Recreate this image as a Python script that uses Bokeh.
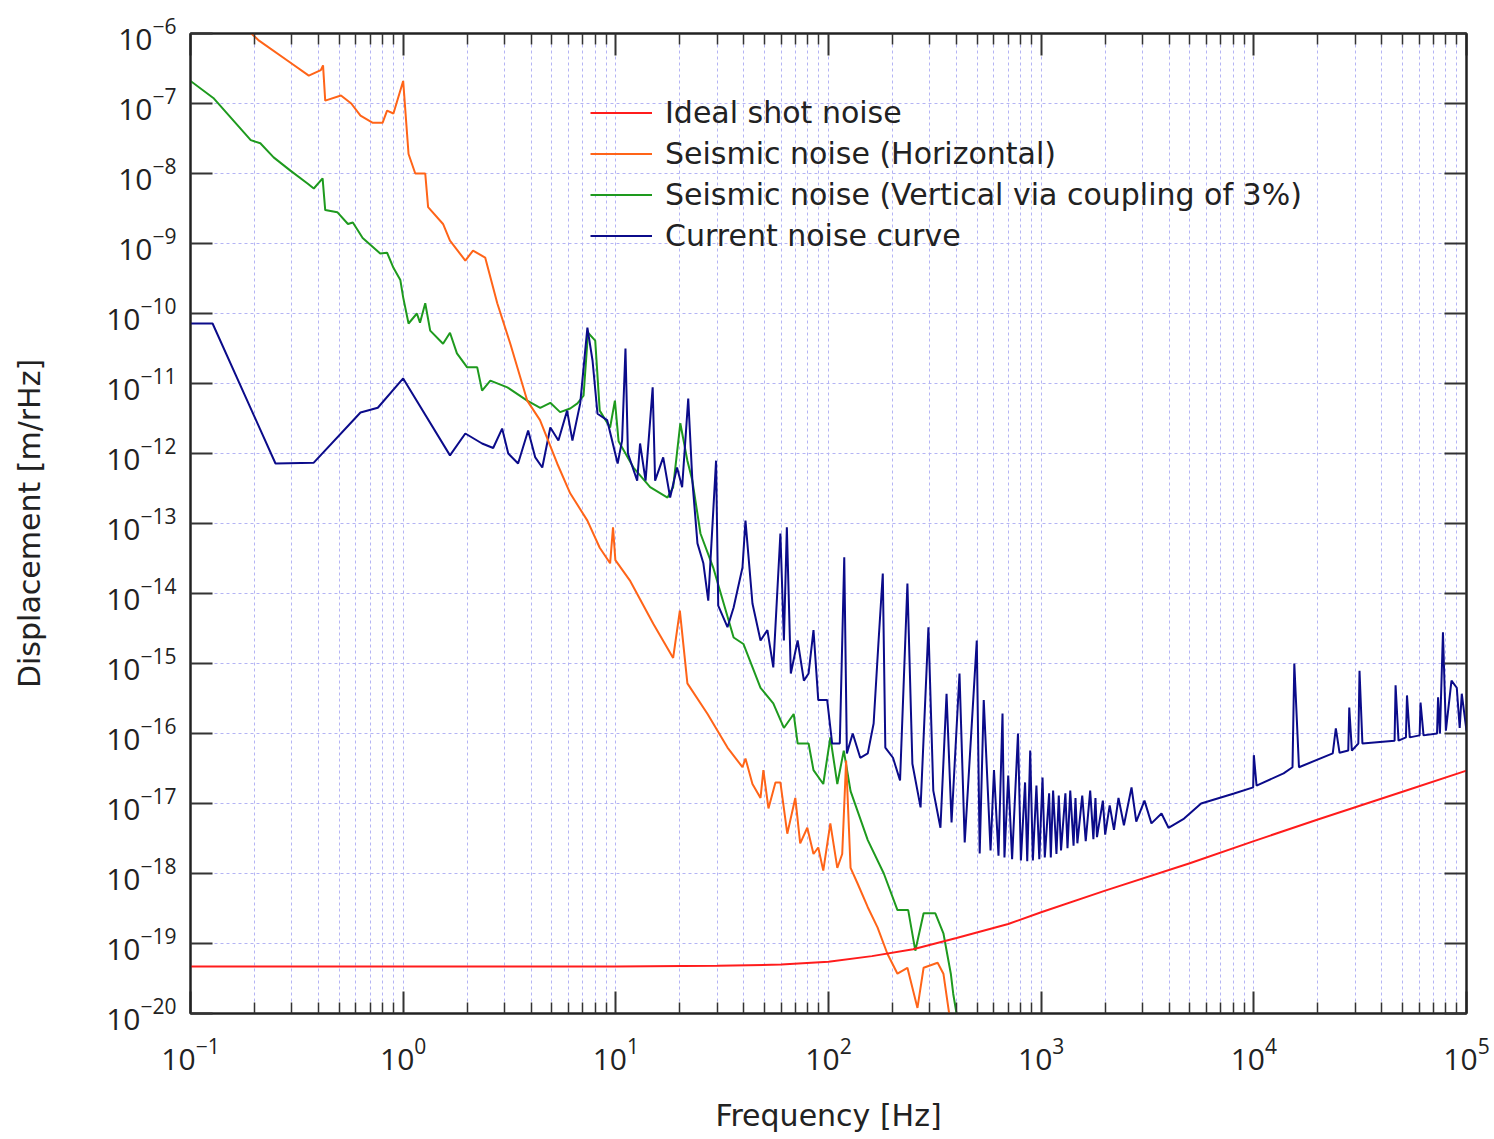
from bokeh.plotting import figure
from bokeh.models import (Range1d, FixedTicker, LogAxis, Legend, LegendItem,
                          CustomJSTickFormatter)
from bokeh.embed import file_html
from bokeh.resources import INLINE

FONT = "Open Sans"
TEXT_FONT = "DejaVu Sans"

# ---------------- data ----------------
x_ticks = [0.1, 1, 10, 100, 1000, 10000, 100000]
y_ticks = [1e-20, 1e-19, 1e-18, 1e-17, 1e-16, 1e-15, 1e-14, 1e-13, 1e-12,
           1e-11, 1e-10, 1e-9, 1e-8, 1e-7, 1e-6]

series_labels = ["Ideal shot noise", "Seismic noise (Horizontal)",
                 "Seismic noise (Vertical via coupling of 3%)", "Current noise curve"]

shot_f = [0.1, 1, 10, 30, 60, 100, 160, 250, 400, 700, 1000, 2000, 5000,
          10000, 20000, 50000, 100000]
shot_d = [4.7e-20, 4.7e-20, 4.7e-20, 4.8e-20, 5.0e-20, 5.5e-20, 6.6e-20, 8.3e-20,
          1.2e-19, 1.9e-19, 2.8e-19, 5.7e-19, 1.4e-18, 2.9e-18, 5.9e-18, 1.47e-17, 2.95e-17]

horiz_f = [0.19, 0.21, 0.30, 0.36, 0.41, 0.42, 0.43, 0.51, 0.57, 0.63,
           0.72, 0.80, 0.84, 0.90, 1.0, 1.06, 1.14, 1.27, 1.31, 1.54,
           1.66, 1.96, 2.13, 2.43, 2.77, 3.19, 3.83, 4.4, 5.3, 6.1,
           7.35, 8.4, 9.4, 9.7, 9.95, 11.7, 15, 18.6, 20, 21.7,
           27, 33.5, 39.4, 40.7, 43.9, 47.9, 49.4, 52.2, 56.3, 59.4,
           64, 69.8, 73.6, 79.5, 85, 89.5, 94.5, 102, 110, 116,
           121, 127, 137, 153, 170, 189, 211, 235, 262, 280,
           326, 347, 366, 380]
horiz_d = [1.05e-6, 7.9e-7, 3.7e-7, 2.5e-7, 3.0e-7, 3.5e-7, 1.1e-7, 1.3e-7, 1.0e-7, 6.7e-8,
           5.3e-8, 5.3e-8, 7.9e-8, 7.2e-8, 2.1e-7, 1.9e-8, 1.0e-8, 1.0e-8, 3.3e-9, 1.9e-9,
           1.1e-9, 5.7e-10, 7.9e-10, 6.3e-10, 1.4e-10, 3.7e-11, 5.7e-12, 3.0e-12, 7.2e-13, 2.7e-13,
           1.1e-13, 4.5e-14, 2.7e-14, 8.8e-14, 3.0e-14, 1.5e-14, 3.7e-15, 1.2e-15, 5.7e-15, 5.2e-16,
           1.9e-16, 6.3e-17, 3.3e-17, 4.4e-17, 1.9e-17, 1.2e-17, 3.0e-17, 8.5e-18, 2.0e-17, 2.0e-17,
           3.7e-18, 1.2e-17, 2.7e-18, 4.5e-18, 1.9e-18, 2.35e-18, 1.1e-18, 5.2e-18, 1.2e-18, 1.9e-18,
           4.1e-17, 1.2e-18, 7.2e-19, 3.3e-19, 1.7e-19, 7.2e-20, 3.7e-20, 4.5e-20, 1.2e-20, 4.5e-20,
           5.3e-20, 3.7e-20, 1.2e-20, 5.7e-21]

vert_f = [0.1, 0.128, 0.192, 0.213, 0.246, 0.295, 0.355, 0.38, 0.418, 0.43,
          0.49, 0.55, 0.58, 0.645, 0.78, 0.84, 0.9, 0.97, 1.0, 1.06,
          1.16, 1.2, 1.27, 1.34, 1.54, 1.66, 1.79, 2.0, 2.23, 2.35,
          2.57, 3.09, 3.83, 4.41, 4.92, 5.47, 6.1, 6.6, 7.05, 7.4,
          8.0, 8.4, 9.4, 9.9, 10.3, 12.1, 14.5, 17.5, 18.6, 20.1,
          21.7, 22.9, 25, 28.7, 35.8, 39.8, 47.9, 55, 61.7, 68.6,
          71.6, 80.6, 85, 94.5, 102, 110, 118, 127, 153, 182,
          211, 237, 256, 280, 318, 347, 376, 386, 400, 410]
vert_d = [2.1e-7, 1.2e-7, 3.0e-8, 2.7e-8, 1.7e-8, 1.1e-8, 7.2e-9, 6.1e-9, 8.5e-9, 3.0e-9,
          2.8e-9, 1.9e-9, 2.0e-9, 1.2e-9, 7.2e-10, 7.4e-10, 4.5e-10, 3.0e-10, 1.7e-10, 7.2e-11,
          1.0e-10, 7.4e-11, 1.4e-10, 5.7e-11, 3.7e-11, 5.3e-11, 2.7e-11, 1.7e-11, 1.7e-11, 7.9e-12,
          1.1e-11, 8.8e-12, 5.7e-12, 4.5e-12, 5.3e-12, 3.9e-12, 4.4e-12, 5.2e-12, 6.7e-12, 5.3e-11,
          4.1e-11, 4.1e-12, 2.35e-12, 5.7e-12, 1.5e-12, 6.3e-13, 3.3e-13, 2.35e-13, 3.3e-13, 2.7e-12,
          7.9e-13, 4.1e-13, 7.2e-14, 2.35e-14, 2.35e-15, 1.9e-15, 4.5e-16, 2.7e-16, 1.2e-16, 1.9e-16,
          7.2e-17, 7.2e-17, 3.0e-17, 1.9e-17, 8.8e-17, 1.9e-17, 5.7e-17, 1.5e-17, 3.0e-18, 1.0e-18,
          3.0e-19, 3.0e-19, 7.9e-20, 2.7e-19, 2.7e-19, 1.4e-19, 3.7e-20, 1.9e-20, 1.0e-20, 5.7e-21]

curr_f = [0.1, 0.127, 0.251, 0.38, 0.63, 0.76, 1.0, 1.66, 1.96, 2.35,
          2.65, 2.92, 3.12, 3.47, 3.87, 4.18, 4.51, 4.92, 5.37, 5.9,
          6.25, 6.8, 7.35, 7.77, 8.2, 9.1, 10.2, 10.7, 11.1, 11.4,
          12.6, 13.0, 13.8, 14.9, 15.3, 16.7, 18.0, 19.4, 20.5, 21.9,
          22.9, 24.2, 25.8, 27.2, 29.6, 30.3, 33.5, 35.8, 39.4, 40.7,
          43.9, 47.9, 51.6, 55, 59.4, 61.7, 63.7, 66.5, 71.6, 76.6,
          80.6, 85, 89.5, 98.6, 104, 113, 118.6, 122, 130, 141,
          153, 163, 172, 180, 185, 201, 217, 235, 248, 271,
          295, 311, 336, 359, 379, 413, 437, 498, 514, 537,
          578, 600, 630, 658, 672, 700, 730, 778, 803, 840,
          860, 888, 914, 950, 980, 1015, 1040, 1090, 1110, 1138,
          1180, 1210, 1240, 1300, 1330, 1370, 1420, 1450, 1480, 1560,
          1620, 1700, 1760, 1800, 1830, 1950, 2000, 2100, 2200, 2310,
          2450, 2660, 2800, 3060, 3300, 3680, 3970, 4700, 5650, 8070,
          9930, 10000, 10300, 13800, 15200, 15500, 16300, 23500, 24300, 25300,
          27800, 28100, 28900, 31000, 31400, 32400, 45900, 46400, 47900, 51900,
          52500, 54100, 60200, 60800, 62800, 72700, 73500, 75000, 77500, 80000,
          85000, 90000, 92900, 95000, 100000]
curr_d = [7.2e-11, 7.2e-11, 7.2e-13, 7.4e-13, 3.85e-12, 4.5e-12, 1.18e-11, 9.4e-13, 1.93e-12, 1.39e-12,
          1.2e-12, 2.27e-12, 1.0e-12, 7.2e-13, 2.13e-12, 8.8e-13, 6.3e-13, 2.35e-12, 1.53e-12, 4.1e-12,
          1.53e-12, 5.2e-12, 6.3e-11, 2.13e-11, 3.7e-12, 3.0e-12, 7.2e-13, 1.53e-12, 3.16e-11, 1.0e-12,
          4.1e-13, 1.39e-12, 4.1e-13, 8.8e-12, 4.1e-13, 8.8e-13, 2.35e-13, 6.3e-13, 3.3e-13, 6.1e-12,
          4.1e-13, 5.2e-14, 2.7e-14, 7.9e-15, 7.9e-13, 6.7e-15, 3.3e-15, 6.3e-15, 2.35e-14, 1.1e-13,
          7.2e-15, 2.13e-15, 3.0e-15, 8.8e-16, 7.2e-14, 2.13e-15, 8.8e-14, 7.2e-16, 2.13e-15, 5.7e-16,
          7.2e-16, 3.0e-15, 3.0e-16, 3.0e-16, 7.2e-17, 7.2e-17, 3.3e-14, 5.2e-17, 1.0e-16, 4.5e-17,
          5.2e-17, 1.39e-16, 2.13e-15, 1.93e-14, 6.3e-17, 4.5e-17, 2.13e-17, 1.39e-14, 3.7e-17, 8.8e-18,
          3.3e-15, 1.53e-17, 4.5e-18, 3.7e-16, 5.35e-18, 7.2e-16, 2.77e-18, 2.13e-15, 1.93e-18, 3.0e-16,
          2.13e-18, 3.0e-17, 1.8e-18, 1.93e-16, 1.7e-18, 2.5e-17, 1.6e-18, 1.0e-16, 1.53e-18, 2.0e-17,
          1.5e-18, 5.7e-17, 1.53e-18, 1.8e-17, 1.6e-18, 2.35e-17, 1.7e-18, 1.4e-17, 1.7e-18, 1.53e-17,
          1.9e-18, 1.3e-17, 2.13e-18, 1.4e-17, 2.3e-18, 1.53e-17, 2.5e-18, 1.2e-17, 2.7e-18, 1.3e-17,
          2.9e-18, 1.53e-17, 3.1e-18, 1.2e-17, 3.3e-18, 1.1e-17, 3.6e-18, 9.4e-18, 4.2e-18, 1.2e-17,
          4.9e-18, 1.7e-17, 5.5e-18, 1.1e-17, 5.2e-18, 7.2e-18, 4.5e-18, 6.1e-18, 1.0e-17, 1.39e-17,
          1.7e-17, 4.9e-17, 1.8e-17, 2.7e-17, 3.3e-17, 1.0e-15, 3.3e-17, 5.2e-17, 1.18e-16, 5.3e-17,
          5.7e-17, 2.35e-16, 5.7e-17, 7.2e-17, 7.9e-16, 7.2e-17, 7.9e-17, 4.9e-16, 7.9e-17, 8.8e-17,
          3.5e-16, 8.8e-17, 9.4e-17, 2.77e-16, 9.4e-17, 1.0e-16, 3.3e-16, 1.0e-16, 2.8e-15, 1.1e-16,
          5.7e-16, 4.5e-16, 1.2e-16, 3.7e-16, 1.1e-16]

# ---------------- figure ----------------
x_minor = [m * t for t in x_ticks[:-1] for m in range(2, 10)]
x_ticker = FixedTicker(ticks=x_ticks, minor_ticks=x_minor)
y_ticker = FixedTicker(ticks=y_ticks)

p = figure(width=1494, height=1139, x_axis_type="log", y_axis_type="log",
           x_range=Range1d(0.1, 1e5), y_range=Range1d(1e-20, 1e-6),
           output_backend="svg", toolbar_location=None,
           min_border_left=190, min_border_right=28, min_border_top=33,
           min_border_bottom=126)
p.background_fill_color = "white"
p.border_fill_color = "white"
p.outline_line_color = "#222222"
p.outline_line_width = 2

bottom_axis = p.below[0]
left_axis = p.left[0]
bottom_axis.ticker = x_ticker
left_axis.ticker = y_ticker
p.xgrid.ticker = x_ticker
p.ygrid.ticker = y_ticker

grid_color = "#b4b4f4"
for g in (p.xgrid, p.ygrid):
    g.grid_line_color = grid_color
    g.grid_line_dash = "3 3"
    g.grid_line_width = 1
p.xgrid.minor_grid_line_color = grid_color
p.xgrid.minor_grid_line_dash = "3 3"
p.xgrid.minor_grid_line_width = 1

top_axis = LogAxis(ticker=x_ticker, formatter=CustomJSTickFormatter(code="return ''"))
right_axis = LogAxis(ticker=y_ticker, formatter=CustomJSTickFormatter(code="return ''"))
p.add_layout(top_axis, "above")
p.add_layout(right_axis, "right")

for ax in [bottom_axis, left_axis, top_axis, right_axis]:
    ax.major_tick_in = 22
    ax.major_tick_out = 0
    ax.minor_tick_in = 11
    ax.minor_tick_out = 0
    ax.major_tick_line_color = "#333333"
    ax.major_tick_line_width = 2
    ax.minor_tick_line_color = "#333333"
    ax.minor_tick_line_width = 1.5
    ax.axis_line_color = "#222222"
    ax.axis_line_width = 2
    ax.major_label_text_font = FONT
    ax.major_label_text_font_size = "30px"
    ax.major_label_text_color = "#222222"
top_axis.major_label_standoff = 0
right_axis.major_label_standoff = 0

bottom_axis.axis_label = "Frequency [Hz]"
left_axis.axis_label = "Displacement [m/rHz]"
for ax in [bottom_axis, left_axis]:
    ax.axis_label_text_font = TEXT_FONT
    ax.axis_label_text_font_size = "30px"
    ax.axis_label_text_font_style = "normal"
    ax.axis_label_text_color = "#222222"
bottom_axis.major_label_standoff = 24
bottom_axis.axis_label_standoff = 25
left_axis.major_label_standoff = 14
left_axis.axis_label_standoff = 56

r_vert = p.line(vert_f, vert_d, line_color="#1e9a1e", line_width=2)
r_curr = p.line(curr_f, curr_d, line_color="#0b0b8a", line_width=2)
r_horiz = p.line(horiz_f, horiz_d, line_color="#ff6418", line_width=2)
r_shot = p.line(shot_f, shot_d, line_color="#ff1c1c", line_width=2)

legend = Legend(items=[LegendItem(label=series_labels[0], renderers=[r_shot]),
                       LegendItem(label=series_labels[1], renderers=[r_horiz]),
                       LegendItem(label=series_labels[2], renderers=[r_vert]),
                       LegendItem(label=series_labels[3], renderers=[r_curr])],
                location=(400, 757), background_fill_alpha=0, border_line_alpha=0,
                label_text_font=TEXT_FONT, label_text_font_size="30px",
                label_text_color="#222222", glyph_width=62, glyph_height=41,
                label_height=41, label_standoff=13, spacing=0, padding=0, margin=0)
p.add_layout(legend)

open("out.html", "w").write(file_html(p, INLINE))
